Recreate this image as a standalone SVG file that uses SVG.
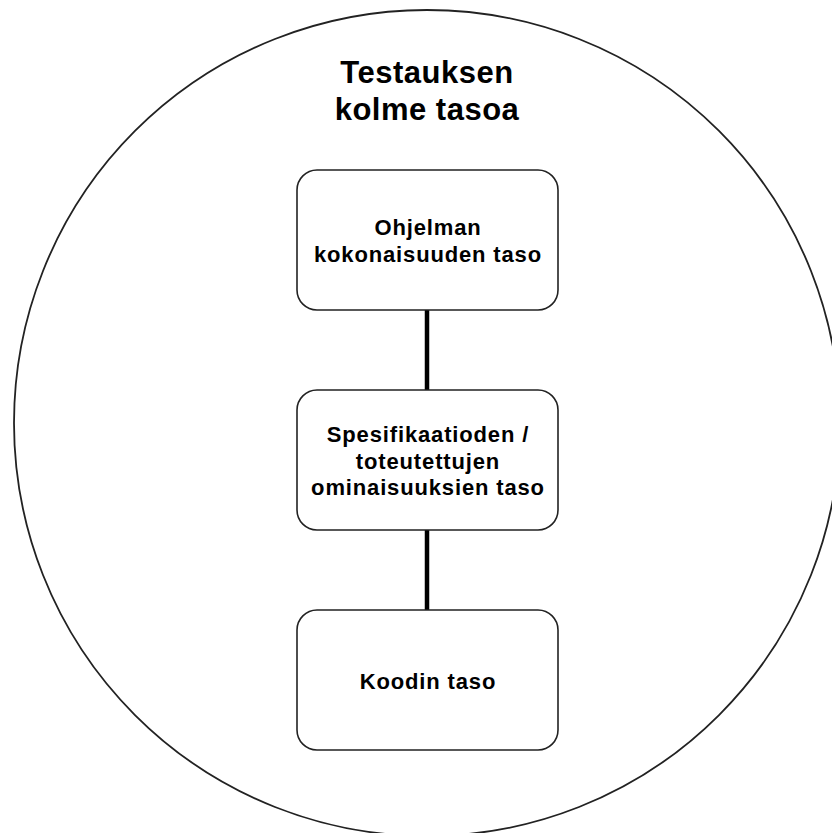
<svg xmlns="http://www.w3.org/2000/svg" width="832" height="833" viewBox="0 0 832 833">
  <style>
    .box { fill: #ffffff; stroke: #222222; stroke-width: 1.6; }
    .lbl { font-family: "Liberation Sans", Arial, sans-serif; font-weight: bold; font-size: 22px; letter-spacing: 0.85px; fill: #000000; text-anchor: middle; }
    .title { font-family: "Liberation Sans", Arial, sans-serif; font-weight: bold; font-size: 31px; letter-spacing: 0.5px; fill: #000000; text-anchor: middle; }
    .conn { stroke: #000000; stroke-width: 4.5; fill: none; }
  </style>
  <rect width="832" height="833" fill="#ffffff"/>
  <g id="boundary">
    <circle cx="427" cy="423" r="413" fill="none" stroke="#222222" stroke-width="1.8"/>
    <text class="title" x="427" y="83">Testauksen</text>
    <text class="title" x="427" y="120">kolme tasoa</text>
  </g>
  <g id="connectors">
    <line class="conn" x1="427" y1="310" x2="427" y2="390"/>
    <line class="conn" x1="427" y1="530" x2="427" y2="610"/>
  </g>
  <g id="node-ohjelma">
    <rect class="box" x="297" y="170" width="261" height="140" rx="20" ry="20"/>
    <text class="lbl" x="428" y="235">Ohjelman</text>
    <text class="lbl" x="428" y="262">kokonaisuuden taso</text>
  </g>
  <g id="node-spesifikaatio">
    <rect class="box" x="297" y="390" width="261" height="140" rx="20" ry="20"/>
    <text class="lbl" x="428" y="442">Spesifikaatioden /</text>
    <text class="lbl" x="428" y="468.5">toteutettujen</text>
    <text class="lbl" x="428" y="495">ominaisuuksien taso</text>
  </g>
  <g id="node-koodi">
    <rect class="box" x="297" y="610" width="261" height="140" rx="20" ry="20"/>
    <text class="lbl" x="428" y="689">Koodin taso</text>
  </g>
</svg>
